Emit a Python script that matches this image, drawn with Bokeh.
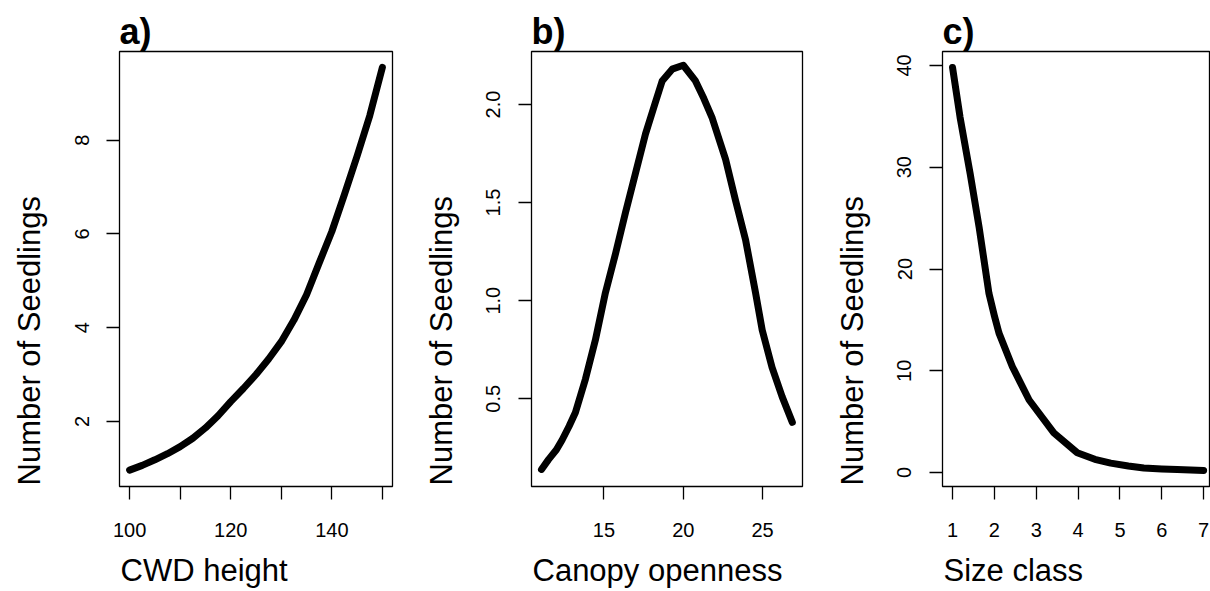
from bokeh.plotting import figure
from bokeh.layouts import row
from bokeh.models import Range1d, FixedTicker, Title
from bokeh.embed import file_html
from bokeh.resources import INLINE

# ---------------- data ----------------
# a) CWD height
cwd_height = [100, 102.5, 105, 107.5, 110, 112.5, 115, 117.5, 120, 122.5, 125,
              127.5, 130, 132.5, 135, 137.5, 140, 142.5, 145, 147.5, 150]
seedlings_a = [0.96, 1.06, 1.18, 1.31, 1.46, 1.64, 1.86, 2.12, 2.42, 2.70, 3.00,
               3.33, 3.70, 4.16, 4.70, 5.38, 6.05, 6.84, 7.66, 8.52, 9.55]

# b) Canopy openness
canopy = [11.06, 11.5, 12.0, 12.36, 12.8, 13.2, 13.83, 14.46, 15.09, 15.73,
          16.36, 16.99, 17.62, 18.2, 18.67, 19.3, 20.0, 20.77, 21.3, 21.83,
          22.67, 23.3, 23.93, 24.56, 24.98, 25.6, 26.24, 26.88]
seedlings_b = [0.14, 0.19, 0.24, 0.29, 0.36, 0.43, 0.60, 0.80, 1.04, 1.24,
               1.45, 1.65, 1.85, 2.00, 2.12, 2.18, 2.20, 2.12, 2.03, 1.93,
               1.72, 1.51, 1.31, 1.04, 0.85, 0.66, 0.51, 0.38]

# c) Size class
size_class = [1.0, 1.18, 1.42, 1.635, 1.87, 2.0, 2.11, 2.43, 2.83, 3.42, 3.98,
              4.4, 4.78, 5.2, 5.57, 6.0, 6.37, 7.0]
seedlings_c = [39.8, 34.9, 29.4, 24.1, 17.6, 15.4, 13.7, 10.4, 7.13, 3.9, 1.95,
               1.3, 0.93, 0.65, 0.45, 0.35, 0.29, 0.21]

# tick labels
a_xticks = [100, 110, 120, 130, 140, 150]
a_xlabels = {100: "100", 110: "", 120: "120", 130: "", 140: "140", 150: ""}
a_yticks = [2, 4, 6, 8]
a_ylabels = {2: "2", 4: "4", 6: "6", 8: "8"}

b_xticks = [15, 20, 25]
b_xlabels = {15: "15", 20: "20", 25: "25"}
b_yticks = [0.5, 1.0, 1.5, 2.0]
b_ylabels = {0.5: "0.5", 1.0: "1.0", 1.5: "1.5", 2.0: "2.0"}

c_xticks = [1, 2, 3, 4, 5, 6, 7]
c_xlabels = {1: "1", 2: "2", 3: "3", 4: "4", 5: "5", 6: "6", 7: "7"}
c_yticks = [0, 10, 20, 30, 40]
c_ylabels = {0: "0", 10: "10", 20: "20", 30: "30", 40: "40"}

FONT = "Liberation Sans"
YLABEL = "Number of Seedlings"


def panel(title, xlabel, xr, yr, xticks, xlabels, yticks, ylabels, xs, ys,
          ml, mr, fw, shift):
    p = figure(frame_width=fw, frame_height=435,
               x_range=Range1d(*xr), y_range=Range1d(*yr),
               output_backend="svg", toolbar_location=None,
               min_border_left=ml, min_border_right=mr,
               min_border_top=51, min_border_bottom=105,
               margin=(0, 0, 0, shift))
    p.grid.visible = False
    p.background_fill_color = "white"
    p.border_fill_color = None
    p.outline_line_color = "black"
    p.outline_line_width = 1.3

    p.title.text = title
    p.title.text_font = FONT
    p.title.text_font_size = "36px"
    p.title.text_font_style = "bold"
    p.title.text_color = "black"
    p.title.align = "left"
    p.title.offset = 0
    p.title.standoff = 0

    for ax, ticks, labels in ((p.xaxis[0], xticks, xlabels),
                              (p.yaxis[0], yticks, ylabels)):
        ax.ticker = FixedTicker(ticks=ticks)
        ax.major_label_overrides = labels
        ax.axis_line_color = None
        ax.major_tick_out = 13
        ax.major_tick_in = 0
        ax.minor_tick_out = 0
        ax.minor_tick_in = 0
        ax.major_tick_line_color = "black"
        ax.major_tick_line_width = 1.3
        ax.major_label_text_font = FONT
        ax.major_label_text_font_size = "20px"
        ax.major_label_text_color = "black"

    p.xaxis.major_label_standoff = 23
    p.yaxis.major_label_orientation = "parallel"
    p.yaxis.major_label_standoff = 18

    # axis titles, left-aligned with the plot box (as in the reference)
    xt = Title(text=xlabel, align="left", vertical_align="middle",
               text_font=FONT, text_font_size="31px",
               text_font_style="normal", text_color="black",
               offset=1, standoff=24)
    p.add_layout(xt, "below")
    yt = Title(text=YLABEL, align="left", vertical_align="middle",
               text_font=FONT, text_font_size="31px",
               text_font_style="normal", text_color="black",
               offset=1, standoff=48)
    p.add_layout(yt, "left")

    p.line(xs, ys, line_width=7, line_color="black",
           line_cap="round", line_join="round")
    return p


pa = panel("a)", "CWD height", (98, 152), (0.61, 9.89),
           a_xticks, a_xlabels, a_yticks, a_ylabels,
           cwd_height, seedlings_a, 134, 20, 273, -15)
pb = panel("b)", "Canopy openness", (10.43, 27.52), (0.053, 2.27),
           b_xticks, b_xlabels, b_yticks, b_ylabels,
           canopy, seedlings_b, 134, 20, 271, -15)
pc = panel("c)", "Size class", (0.76, 7.14), (-1.37, 41.37),
           c_xticks, c_xlabels, c_yticks, c_ylabels,
           size_class, seedlings_c, 135, 1, 267, -15)

layout = row(pa, pb, pc)
open("out.html", "w").write(file_html(layout, INLINE))
